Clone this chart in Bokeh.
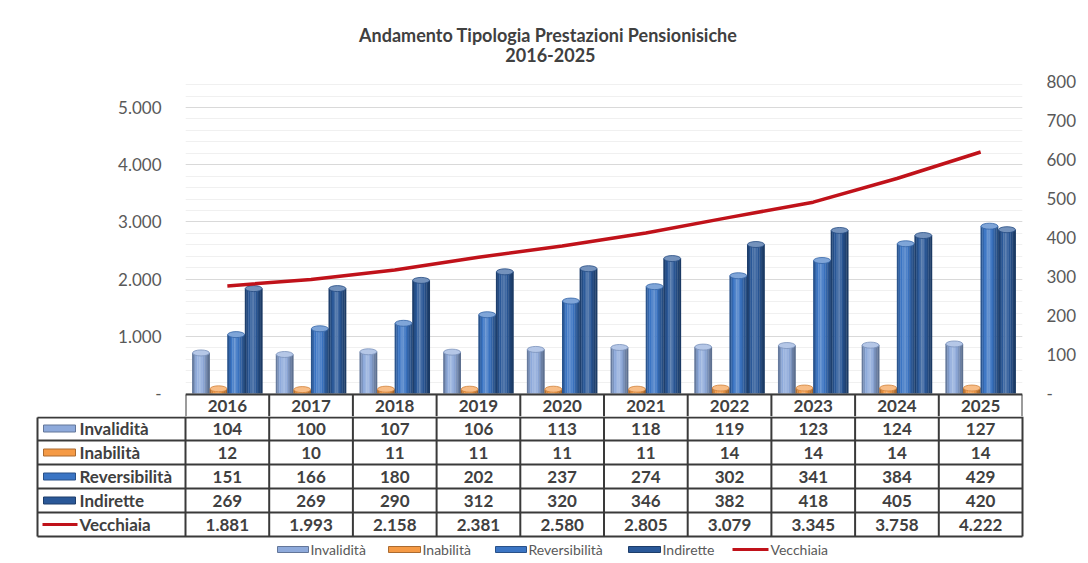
import numpy as np
from bokeh.plotting import figure
from bokeh.models import Range1d, LinearAxis, FixedTicker
from bokeh.core.properties import value
from bokeh.embed import file_html
from bokeh.resources import INLINE

# ---------------- data ----------------
years = ["2016", "2017", "2018", "2019", "2020", "2021", "2022", "2023", "2024", "2025"]
invalidita = [104, 100, 107, 106, 113, 118, 119, 123, 124, 127]
inabilita = [12, 10, 11, 11, 11, 11, 14, 14, 14, 14]
reversibilita = [151, 166, 180, 202, 237, 274, 302, 341, 384, 429]
indirette = [269, 269, 290, 312, 320, 346, 382, 418, 405, 420]
vecchiaia = [1881, 1993, 2158, 2381, 2580, 2805, 3079, 3345, 3758, 4222]

bar_names = ["Invalidità", "Inabilità", "Reversibilità", "Indirette"]
bar_values = [invalidita, inabilita, reversibilita, indirette]
line_name = "Vecchiaia"
title_lines = ["Andamento  Tipologia Prestazioni Pensionisiche", "2016-2025"]
left_ticks = [0, 1000, 2000, 3000, 4000, 5000]
left_minor = list(range(200, 5600, 200))
right_ticks = [0, 100, 200, 300, 400, 500, 600, 700, 800]

# ---------------- style ----------------
FONT = "Lato"
bar_colors = ["#8eaadb", "#f59a45", "#3b75c4", "#2a5898"]
line_color = "#c0121a"
text_dark = "#404040"
text_gray = "#595959"
table_line = "#3a3a3a"

def fmt(v):
    return "-" if v == 0 else f"{v:,}".replace(",", ".")

def shade(hx, f):
    r, g, b = int(hx[1:3], 16), int(hx[3:5], 16), int(hx[5:7], 16)
    if f <= 1:
        r, g, b = r * f, g * f, b * f
    else:
        t = f - 1
        r, g, b = r + (255 - r) * t, g + (255 - g) * t, b + (255 - b) * t
    return "#%02x%02x%02x" % (int(min(255, r)), int(min(255, g)), int(min(255, b)))

# ---------------- geometry (page pixels; Bokeh page has no body margin) ----------------
W = 1085
F1_TOP, F1_BOTTOM = 0, 416
FRAME_L, FRAME_R = 185, 1022
CAT_PX = (FRAME_R - FRAME_L) / len(years)
ZERO_Y = 393
L_PX = 0.0572   # px per left unit
R_PX = 0.39     # px per right unit

def ly(page_y):
    return (ZERO_Y - page_y) / L_PX

xs = np.arange(len(years))

# ---------------- figure 1: title + chart + header row ----------------
p = figure(width=W, height=F1_BOTTOM - F1_TOP,
           x_range=Range1d(-0.5, len(years) - 0.5),
           y_range=Range1d(ly(F1_BOTTOM), ly(F1_TOP)),
           x_axis_location=None, title=None, toolbar_location=None,
           output_backend="svg",
           min_border_left=FRAME_L, min_border_right=W - FRAME_R,
           min_border_top=0, min_border_bottom=0)
p.extra_y_ranges = {"r": Range1d((ZERO_Y - F1_BOTTOM) / R_PX, (ZERO_Y - F1_TOP) / R_PX)}
p.outline_line_color = None
p.xgrid.visible = False

la = p.yaxis[0]
la.ticker = FixedTicker(ticks=left_ticks, minor_ticks=left_minor)
la.major_label_overrides = {t: fmt(t) for t in left_ticks}
ra = LinearAxis(y_range_name="r", ticker=FixedTicker(ticks=right_ticks))
ra.major_label_overrides = {t: fmt(t) for t in right_ticks}
p.add_layout(ra, "right")
for ax in (la, ra):
    ax.axis_line_color = None
    ax.major_tick_line_color = None
    ax.minor_tick_line_color = None
    ax.major_label_standoff = 18
    ax.major_label_text_font = FONT
    ax.major_label_text_font_size = "17px"
    ax.major_label_text_color = text_gray

p.ygrid.grid_line_color = "#d9d9d9"
p.ygrid.grid_line_width = 1.2
p.ygrid.minor_grid_line_color = "#f0f0f0"

# title
p.text(x=[3.86, 3.86], y=[ly(34), ly(54)], text=title_lines,
       text_font=value(FONT), text_font_style="bold", text_font_size="18px",
       text_color=text_dark, text_align="center", text_baseline="middle")

# cylinder bars
BW = 0.21
offsets = [-0.315, -0.105, 0.105, 0.315]
profile = [0.72, 0.88, 1.0, 1.12, 1.2, 1.1, 0.97, 0.86, 0.75, 0.66]
NS = len(profile)
for vals, col, off in zip(bar_values, bar_colors, offsets):
    for k, f in enumerate(profile):
        p.vbar(x=xs + off - BW / 2 + (k + 0.5) * BW / NS, top=vals, bottom=0,
               width=BW / NS * 1.15, fill_color=shade(col, f), line_color=None,
               y_range_name="r")
    p.ellipse(x=xs + off, y=vals, width=BW * 0.96, height=6, height_units="screen",
              fill_color=shade(col, 1.35), line_color=shade(col, 0.85), line_width=0.8,
              y_range_name="r")

# line
p.line(x=xs, y=vecchiaia, line_color=line_color, line_width=3.5)

# header row of data table
p.text(x=xs, y=[ly(405)] * len(years), text=years, text_font=value(FONT),
       text_font_style="bold", text_font_size="17px", text_color=text_dark,
       text_align="center", text_baseline="middle")
bounds = np.arange(len(years) + 1) - 0.5
p.segment(x0=[-0.5], y0=[ly(394)], x1=[len(years) - 0.5], y1=[ly(394)],
          line_color=table_line, line_width=2)
p.segment(x0=bounds, y0=[ly(394)] * len(bounds), x1=bounds, y1=[ly(F1_BOTTOM + 1)] * len(bounds),
          line_color=table_line, line_width=2)

# ---------------- figure 2: table rows + legend ----------------
H2 = 146
def px2x(X):
    return -0.5 + (X - FRAME_L) / CAT_PX

q = figure(width=W, height=H2,
           x_range=Range1d(px2x(0), px2x(W)), y_range=Range1d(H2, 0),
           x_axis_location=None, y_axis_location=None, title=None,
           toolbar_location=None, output_backend="svg", min_border=0)
q.outline_line_color = None
q.grid.visible = False

TL = px2x(37)
row_lines = [1, 24, 48, 72, 96, 120]
q.segment(x0=[TL] * len(row_lines), y0=row_lines, x1=[len(years) - 0.5] * len(row_lines),
          y1=row_lines, line_color=table_line, line_width=2)
q.segment(x0=list(bounds), y0=[0] * len(bounds), x1=list(bounds), y1=[120] * len(bounds),
          line_color=table_line, line_width=2)
q.segment(x0=[TL], y0=[1], x1=[TL], y1=[120], line_color=table_line, line_width=2)

row_names = bar_names + [line_name]
row_values = bar_values + [vecchiaia]
row_y = [12, 36, 60, 84, 108]
for i, (nm, vals, ry) in enumerate(zip(row_names, row_values, row_y)):
    if i < 4:
        q.rect(x=[px2x(59)], y=[ry], width=32, height=7, width_units="screen",
               height_units="screen", fill_color=bar_colors[i],
               line_color=shade(bar_colors[i], 0.7), line_width=1)
    else:
        q.segment(x0=[px2x(42)], y0=[ry], x1=[px2x(77)], y1=[ry],
                  line_color=line_color, line_width=3)
    q.text(x=[px2x(79)], y=[ry], text=[nm], text_font=value(FONT), text_font_style="bold",
           text_font_size="17px", text_color=text_dark, text_align="left",
           text_baseline="middle")
    q.text(x=xs, y=[ry] * len(years), text=[fmt(v) for v in vals], text_font=value(FONT),
           text_font_style="bold", text_font_size="17px", text_color=text_dark,
           text_align="center", text_baseline="middle")

# bottom legend
LEG_Y = 133
leg_keys = [(277, 308), (388, 420), (495, 526), (628, 660), (732, 768)]
for i, (nm, (k0, k1)) in enumerate(zip(row_names, leg_keys)):
    if i < 4:
        q.rect(x=[px2x((k0 + k1) / 2)], y=[LEG_Y], width=k1 - k0, height=6,
               width_units="screen", height_units="screen", fill_color=bar_colors[i],
               line_color=shade(bar_colors[i], 0.7), line_width=1)
    else:
        q.segment(x0=[px2x(k0)], y0=[LEG_Y], x1=[px2x(k1)], y1=[LEG_Y],
                  line_color=line_color, line_width=3)
    q.text(x=[px2x(k1 + 2)], y=[LEG_Y], text=[nm], text_font=value(FONT),
           text_font_size="14px", text_color=text_gray, text_align="left",
           text_baseline="middle")

open("out.html", "w").write(file_html([p, q], INLINE))
